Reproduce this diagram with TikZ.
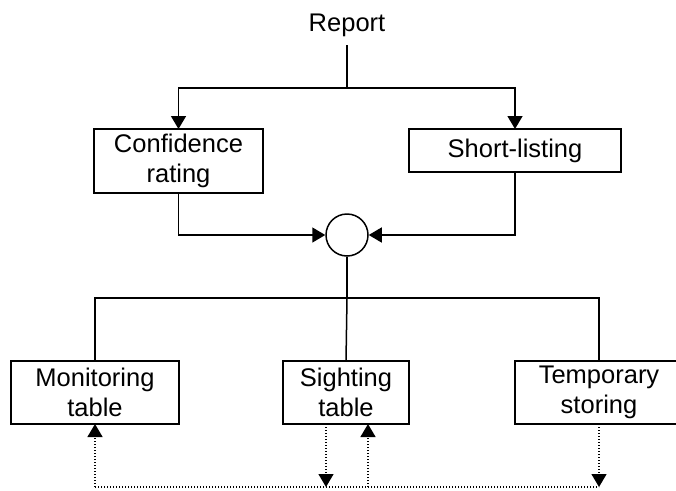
\documentclass[tikz,border=0pt]{standalone}
\usepackage{fontspec}
\setmainfont{Liberation Sans}
\usetikzlibrary{arrows.meta}
\tikzset{
  box/.style = {draw, line width=1.5pt, inner sep=0pt, outer sep=0pt,
                align=center, font=\fontsize{25.5}{30.5}\selectfont},
  flow/.style = {line width=1.5pt, -{Triangle[length=13pt,width=15pt]}},
  dotflow/.style = {line width=1.3pt, dash pattern=on 1.3pt off 1.7pt,
                    -{Triangle[length=13pt,width=15pt]}}
}

\begin{document}
\begin{tikzpicture}[x=1pt, y=-1pt]
	\def \boxh{63}
	\def \bus{487}

	\clip (0,0) rectangle (676,490);
	\useasboundingbox (0,0) rectangle (676,490);

	% Input
	\node[font=\fontsize{25.5}{30.5}\selectfont, anchor=base] (report) at (347,31) {Report};
	\coordinate (reportout) at (347,45);
	\coordinate (split) at (347,88);

	% Upper boxes
	\node[box, minimum width=169pt, minimum height=64pt] (conf) at (178.5,161) {Confidence\\rating};
	\node[box, minimum width=212pt, minimum height=43pt] (short) at (515,150.5) {Short-listing};

	% Merge point
	\node[draw, circle, line width=1.5pt, minimum size=42pt, inner sep=0pt] (merge) at (347,235) {};
	\coordinate (fork) at (347,298);

	% Lower boxes
	\node[box, minimum width=168pt, minimum height=\boxh pt] (mon) at (95,392.5) {Monitoring\\table};
	\node[box, minimum width=126pt, minimum height=\boxh pt] (sight) at (346,392.5) {Sighting\\table};
	\node[box, minimum width=168pt, minimum height=\boxh pt] (temp) at (599,392.5) {Temporary\\storing};

	% Report to the two boxes
	\draw[line width=1.5pt] (reportout) -- (split);
	\draw[flow] (split) -| (conf.north);
	\draw[flow] (split) -| (short.north);

	% Into the merge point
	\draw[flow] (conf.south) |- (merge.west);
	\draw[flow] (short.south) |- (merge.east);

	% Out to the tables
	\draw[line width=1.5pt] (merge.south) -- (fork);
	\draw[line width=1.5pt] (mon.north) |- (fork) -| (temp.north);
	\draw[line width=1.5pt] (fork) -- (sight.north);

	% Dotted exchange
	\coordinate (busL) at (95,\bus);
	\coordinate (busR) at (599,\bus);
	\draw[dotflow, -] (busL) -- (busR);
	\draw[dotflow] (busL) -- (mon.south);
	\draw[dotflow] ([xshift=-20pt]sight.south) -- ([xshift=-20pt]sight.south |- busL);
	\draw[dotflow] ([xshift=22pt]sight.south |- busL) -- ([xshift=22pt]sight.south);
	\draw[dotflow] (temp.south) -- (busR);

\end{tikzpicture}
\end{document}
